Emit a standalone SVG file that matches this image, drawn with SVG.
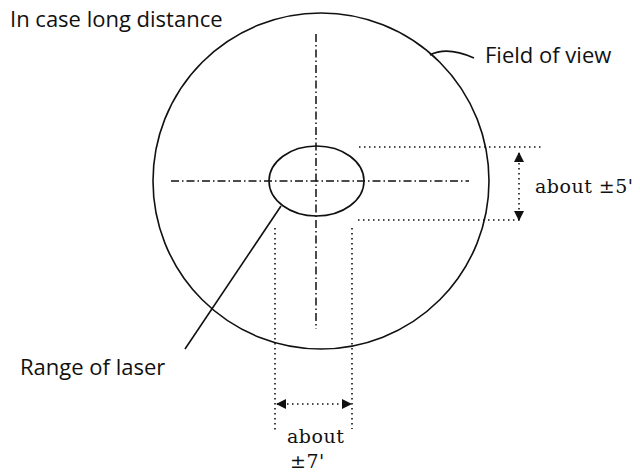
<svg xmlns="http://www.w3.org/2000/svg" width="640" height="472" viewBox="0 0 640 472">
<style>
.ln{fill:none;stroke:#111;stroke-width:1.6}
.dd{fill:none;stroke:#111;stroke-width:1.5;stroke-dasharray:8 3 1.5 3}
.dt{fill:none;stroke:#111;stroke-width:1.6;stroke-dasharray:1.5 3.5}
.sans{font-family:"Open Sans","Liberation Sans",sans-serif;font-size:22px;fill:#111}
.serif{font-family:"DejaVu Serif","Liberation Serif",serif;font-size:19px;letter-spacing:0.5px;fill:#111}
</style>
<defs>
<marker id="ah" viewBox="0 0 10 10" refX="9" refY="5" markerWidth="10" markerHeight="10" markerUnits="userSpaceOnUse" orient="auto-start-reverse">
<path d="M0,0 L10,5 L0,10 Z" fill="#111"/>
</marker>
</defs>
<rect width="640" height="472" fill="#fff"/>
<g id="field-of-view">
<circle class="ln" cx="321" cy="181" r="168"/>
</g>
<g id="laser-range">
<ellipse class="ln" cx="316.5" cy="181" rx="47.5" ry="35"/>
</g>
<g id="crosshair">
<line class="dd" x1="316" y1="34" x2="316" y2="329"/>
<line class="dd" x1="171" y1="181" x2="469" y2="181"/>
</g>
<g id="connectors">
<path class="ln" d="M430,55 Q447,46 474,58"/>
<line class="ln" x1="281" y1="206" x2="185" y2="349"/>
<line class="dt" x1="359" y1="147" x2="544" y2="147"/>
<line class="dt" x1="358" y1="220" x2="522" y2="220"/>
<line class="dt" x1="519" y1="153" x2="519" y2="220" marker-start="url(#ah)" marker-end="url(#ah)"/>
<line class="dt" x1="275" y1="228" x2="275" y2="431"/>
<line class="dt" x1="352" y1="228" x2="352" y2="429"/>
<line class="dt" x1="277" y1="404" x2="351" y2="404" marker-start="url(#ah)" marker-end="url(#ah)"/>
</g>
<g id="labels">
<text class="sans" x="10" y="27">In case long distance</text>
<text class="sans" x="485" y="63">Field of view</text>
<text class="sans" x="20" y="375">Range of laser</text>
<text class="serif" x="535" y="193">about ±5'</text>
<text class="serif" x="287" y="443">about</text>
<text class="serif" x="290" y="468">±7'</text>
</g>
</svg>
